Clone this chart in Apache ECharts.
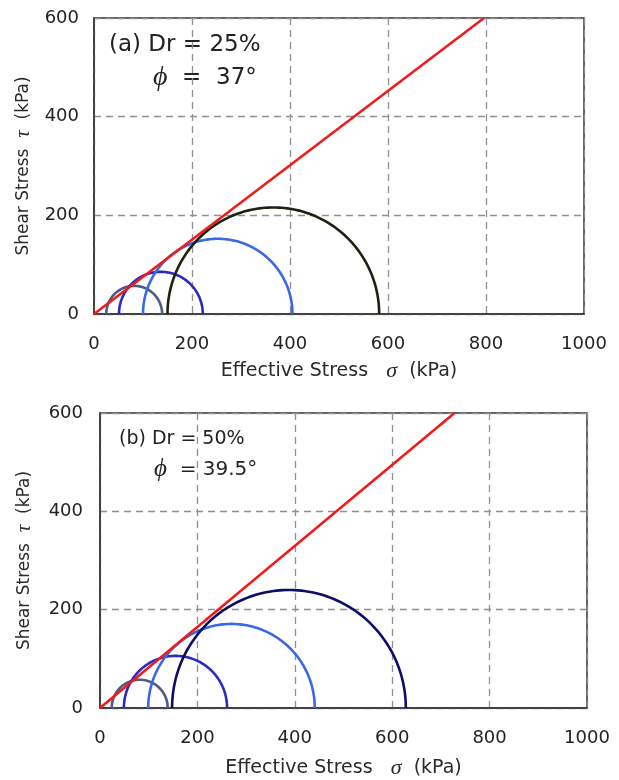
<!DOCTYPE html>
<html>
<head>
<meta charset="utf-8">
<script src="https://cdn.jsdelivr.net/npm/echarts@6/dist/echarts.min.js"></script>
<style>
html,body{margin:0;padding:0;background:#fff;}
#main{width:619px;height:780px;}
</style>
</head>
<body>
<div id="main"></div>
<script>
// ---- Data ----
const xTickMax = 1000;
const yTickMax = 600;
const tickStep = 200;

// Panel (a) Dr = 25%, phi = 37 deg : Mohr circles (sigma3, sigma1) in kPa
const sigma3A = [25, 51, 100, 150];
const sigma1A = [139, 222, 405, 582];
const envelopeA = [[0, 0], [796, 600]];

// Panel (b) Dr = 50%, phi = 39.5 deg
const sigma3B = [24, 49, 99, 148];
const sigma1B = [139, 261, 441, 628];
const envelopeB = [[0, 0], [728, 600]];

const labelA1 = '(a) Dr = 25%';
const labelA2 = '37°';
const labelB1 = '(b) Dr = 50%';
const labelB2 = '39.5°';

// ---- Styles ----
const colorsA = ['#4f5a86', '#2a2ac0', '#3a68e6', '#1c2410'];
const colorsB = ['#4f5a86', '#2a2ac0', '#3a68e6', '#0d0d66'];
const FONT = '"DejaVu Sans", sans-serif';

function mohr(colors) {
  return function (params, api) {
    const s3 = api.value(0), s1 = api.value(1);
    const c = (s3 + s1) / 2, r = (s1 - s3) / 2;
    const pts = [];
    for (let i = 0; i <= 120; i++) {
      const t = Math.PI * i / 120;
      pts.push(api.coord([c + r * Math.cos(t), r * Math.sin(t)]));
    }
    return {
      type: 'polyline',
      shape: { points: pts },
      style: { stroke: colors[params.dataIndex], lineWidth: 2.6, fill: null }
    };
  };
}

function xAxis(gridIndex, gap) {
  return {
    type: 'value', gridIndex: gridIndex, min: 0, max: xTickMax, interval: tickStep,
    name: '{n|Effective Stress   }{i|σ}{n|  (kPa)}',
    nameLocation: 'middle', nameGap: gap,
    nameTextStyle: { rich: {
      n: { fontFamily: FONT, fontSize: 19, color: '#2a2a2a' },
      i: { fontFamily: 'Liberation Serif', fontStyle: 'italic', fontSize: 22, color: '#2a2a2a' }
    } },
    axisLine: { show: true, lineStyle: { color: '#333', width: 1.5 } },
    axisTick: { show: false },
    axisLabel: { fontFamily: FONT, fontSize: 18, color: '#222', margin: 21, formatter: v => String(v) },
    splitLine: { show: true, lineStyle: { type: [7, 5], color: '#909090', width: 1.3 } }
  };
}
function yAxis(gridIndex, gap, margin) {
  return {
    type: 'value', gridIndex: gridIndex, min: 0, max: yTickMax, interval: tickStep,
    name: '{n|Shear Stress  }{i|τ}{n|  (kPa)}',
    nameLocation: 'middle', nameGap: gap, nameRotate: 90,
    nameTextStyle: { rich: {
      n: { fontFamily: FONT, fontSize: 17, color: '#2a2a2a' },
      i: { fontFamily: 'Liberation Serif', fontStyle: 'italic', fontSize: 21, color: '#2a2a2a' }
    } },
    axisLine: { show: true, lineStyle: { color: '#333', width: 1.5 } },
    axisTick: { show: false },
    axisLabel: { fontFamily: FONT, fontSize: 18, color: '#222', margin: margin, formatter: v => String(v) },
    splitLine: { show: true, lineStyle: { type: [7, 5], color: '#909090', width: 1.3 } }
  };
}

const chart = echarts.init(document.getElementById('main'), null, { renderer: 'canvas' });
chart.setOption({
  animation: false,
  backgroundColor: '#fff',
  grid: [
    { left: 94, top: 18, width: 490, height: 296, show: true, borderColor: '#333', borderWidth: 1.5, backgroundColor: 'transparent' },
    { left: 100, top: 413, width: 487, height: 295, show: true, borderColor: '#333', borderWidth: 1.5, backgroundColor: 'transparent' }
  ],
  xAxis: [xAxis(0, 46), xAxis(1, 49)],
  yAxis: [yAxis(0, 57, 15), yAxis(1, 65, 17)],
  graphic: [
    { type: 'text', left: 109, top: 34, style: { text: labelA1, font: '23px ' + FONT, fill: '#222' } },
    { type: 'text', left: 153, top: 64, style: {
      text: '{i|ϕ}{n|  =  ' + labelA2 + '}',
      rich: { i: { font: 'italic 28px "Liberation Serif"', fill: '#222' }, n: { font: '23px ' + FONT, fill: '#222' } }
    } },
    { type: 'text', left: 119, top: 430, style: { text: labelB1, font: '19px ' + FONT, fill: '#222' } },
    { type: 'text', left: 154, top: 457, style: {
      text: '{i|ϕ}{n|  = ' + labelB2 + '}',
      rich: { i: { font: 'italic 25px "Liberation Serif"', fill: '#222' }, n: { font: '20px ' + FONT, fill: '#222' } }
    } }
  ],
  series: [
    { type: 'custom', xAxisIndex: 0, yAxisIndex: 0, renderItem: mohr(colorsA),
      data: sigma3A.map((s, i) => [s, sigma1A[i]]), z: 3 },
    { type: 'line', xAxisIndex: 0, yAxisIndex: 0, data: envelopeA, symbol: 'none',
      lineStyle: { color: '#ee1c1c', width: 2.6 }, z: 4 },
    { type: 'custom', xAxisIndex: 1, yAxisIndex: 1, renderItem: mohr(colorsB),
      data: sigma3B.map((s, i) => [s, sigma1B[i]]), z: 3 },
    { type: 'line', xAxisIndex: 1, yAxisIndex: 1, data: envelopeB, symbol: 'none',
      lineStyle: { color: '#ee1c1c', width: 2.6 }, z: 4 }
  ]
});
</script>
</body>
</html>
